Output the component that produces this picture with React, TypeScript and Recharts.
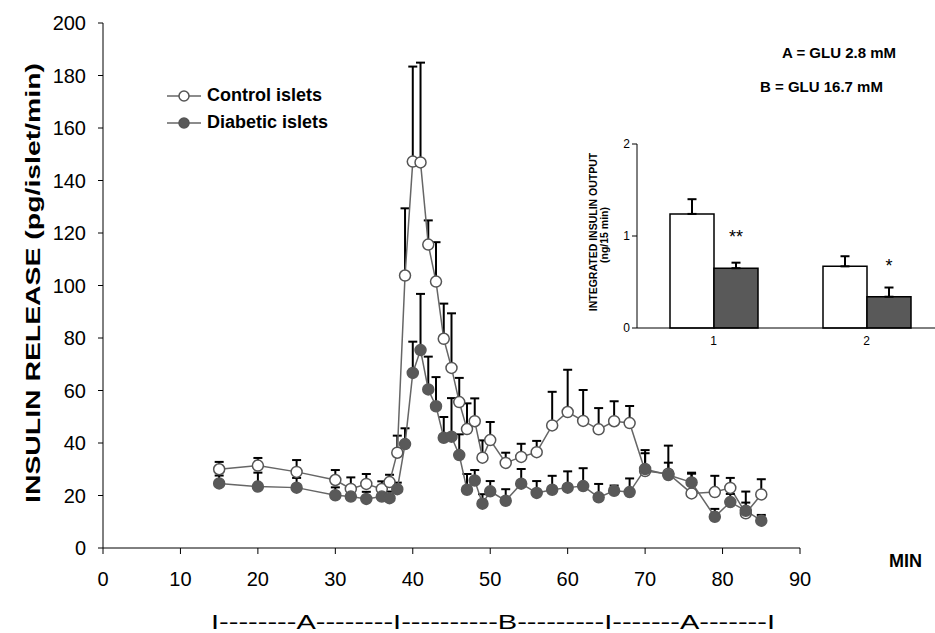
import React from 'react';
import {
  LineChart,
  Line,
  XAxis,
  YAxis,
  ErrorBar,
  BarChart,
  Bar,
  LabelList,
} from 'recharts';

const FONT = '"Liberation Sans", Arial, sans-serif';

// perifusion time points (min)
const minutes = [15, 20, 25, 30, 32, 34, 36, 37, 38, 39, 40, 41, 42, 43, 44, 45, 46, 47, 48, 49, 50, 52, 54, 56, 58, 60, 62, 64, 66, 68, 70, 73, 76, 79, 81, 83, 85];

const controlIslets = [30.0, 31.4, 29.0, 25.9, 22.5, 24.4, 22.5, 25.1, 36.3, 103.8, 147.2, 146.9, 115.6, 101.5, 79.7, 68.6, 55.6, 45.3, 48.3, 34.4, 41.1, 32.4, 34.7, 36.5, 46.7, 51.8, 48.4, 45.2, 48.3, 47.6, 29.3, 28.3, 20.8, 21.3, 22.9, 13.2, 20.4];
const controlSem = [2.8, 2.9, 4.5, 3.8, 4.4, 3.8, 2.9, 2.8, 6.5, 25.6, 36.2, 38.0, 9.2, 15.0, 13.4, 20.8, 9.2, 9.8, 8.7, 6.6, 6.9, 3.9, 5.0, 4.3, 12.8, 16.1, 11.8, 8.1, 7.6, 6.5, 8.0, 10.7, 7.5, 6.2, 3.8, 4.1, 5.8];

const diabeticIslets = [24.6, 23.4, 23.0, 20.1, 19.6, 18.7, 19.6, 19.0, 22.4, 39.6, 66.7, 75.4, 60.4, 54.0, 42.0, 42.4, 35.4, 22.2, 25.7, 16.9, 21.6, 18.0, 24.5, 21.0, 22.2, 23.0, 23.6, 19.3, 21.8, 21.3, 30.1, 27.8, 25.0, 11.9, 17.5, 14.2, 10.4];
const diabeticSem = [3.0, 5.3, 3.7, 3.0, 2.5, 2.7, 2.0, 2.5, 2.5, 6.0, 11.9, 21.4, 12.5, 11.1, 7.9, 14.7, 7.9, 6.0, 4.0, 3.6, 3.9, 4.4, 5.6, 4.5, 5.3, 6.2, 6.8, 5.1, 2.0, 5.2, 6.0, 4.7, 3.7, 3.0, 3.1, 7.3, 2.2];

const xTicks = [0, 10, 20, 30, 40, 50, 60, 70, 80, 90];
const yTicks = [0, 20, 40, 60, 80, 100, 120, 140, 160, 180, 200];

// inset: integrated output
const insetGroups = ['1', '2'];
const insetControl = [1.24, 0.67];
const insetControlSem = [0.16, 0.11];
const insetDiabetic = [0.65, 0.34];
const insetDiabeticSem = [0.06, 0.1];
const insetStars = ['**', '*'];

const data = minutes.map((t, i) => ({
  t,
  control: controlIslets[i],
  controlErr: [0, controlSem[i]],
  diabetic: diabeticIslets[i],
  diabeticErr: [0, diabeticSem[i]],
}));

const insetData = insetGroups.map((g, i) => ({
  group: g,
  control: insetControl[i],
  controlErr: [0, insetControlSem[i]],
  diabetic: insetDiabetic[i],
  diabeticErr: [0, insetDiabeticSem[i]],
  stars: insetStars[i],
}));

const legendItems = [
  { name: 'Control islets', fill: '#fff' },
  { name: 'Diabetic islets', fill: '#595959' },
];

const LegendBox = () => (
  <div style={{ fontFamily: FONT, fontWeight: 'bold', fontSize: 18, color: '#000' }}>
    {legendItems.map((s) => (
      <div key={s.name} style={{ display: 'flex', alignItems: 'center', height: 27 }}>
        <svg width={38} height={14}>
          <line x1={1} y1={7} x2={35} y2={7} stroke="#666" strokeWidth={1.5} />
          <circle cx={18} cy={7} r={5} fill={s.fill} stroke="#555" strokeWidth={1.5} />
        </svg>
        <span style={{ marginLeft: 3 }}>{s.name}</span>
      </div>
    ))}
  </div>
);

const App = () => (
  <div
    style={{
      position: 'absolute',
      left: 0,
      top: 0,
      width: 935,
      height: 633,
      overflow: 'hidden',
      background: '#fff',
      fontFamily: FONT,
    }}
  >
    <LineChart
      width={935}
      height={633}
      data={data}
      margin={{ top: 23, right: 135, left: 0, bottom: 45 }}
    >
      <XAxis
        dataKey="t"
        type="number"
        domain={[0, 90]}
        ticks={xTicks}
        tickSize={6}
        tickMargin={18}
        height={40}
        stroke="#000"
        tick={{ fontSize: 20, fill: '#000', fontFamily: FONT }}
      />
      <YAxis
        type="number"
        domain={[0, 200]}
        ticks={yTicks}
        tickSize={5}
        tickMargin={12}
        width={103}
        stroke="#000"
        tick={{ fontSize: 20, fill: '#000', fontFamily: FONT }}
      />
      <Line
        type="linear"
        dataKey="control"
        stroke="#666"
        strokeWidth={1.5}
        dot={{ r: 5.5, fill: '#fff', stroke: '#555', strokeWidth: 1.5 }}
        isAnimationActive={false}
      >
        <ErrorBar dataKey="controlErr" direction="y" width={4.5} stroke="#000" strokeWidth={2} />
      </Line>
      <Line
        type="linear"
        dataKey="diabetic"
        stroke="#666"
        strokeWidth={1.5}
        dot={{ r: 5.5, fill: '#595959', stroke: '#595959', strokeWidth: 1.5 }}
        isAnimationActive={false}
      >
        <ErrorBar dataKey="diabeticErr" direction="y" width={4.5} stroke="#000" strokeWidth={2} />
      </Line>
    </LineChart>

    <div style={{ position: 'absolute', left: 166, top: 82 }}>
      <LegendBox />
    </div>

    <div style={{ position: 'absolute', left: 597, top: 124 }}>
      <BarChart
        width={350}
        height={234}
        data={insetData}
        margin={{ top: 20, right: 4, left: 0, bottom: 0 }}
        barGap={0}
      >
        <XAxis
          dataKey="group"
          tickLine={false}
          height={30}
          stroke="#000"
          tick={{ fontSize: 12, fill: '#000', fontFamily: FONT }}
        />
        <YAxis
          type="number"
          domain={[0, 2]}
          ticks={[0, 1, 2]}
          tickSize={5}
          width={40}
          stroke="#000"
          tick={{ fontSize: 12, fill: '#000', fontFamily: FONT }}
        />
        <Bar dataKey="control" barSize={44} fill="#fff" stroke="#000" strokeWidth={1.5} isAnimationActive={false}>
          <ErrorBar dataKey="controlErr" direction="y" width={4.5} stroke="#000" strokeWidth={2} />
        </Bar>
        <Bar dataKey="diabetic" barSize={44} fill="#595959" stroke="#000" strokeWidth={1.5} isAnimationActive={false}>
          <ErrorBar dataKey="diabeticErr" direction="y" width={4.5} stroke="#000" strokeWidth={2} />
          <LabelList dataKey="stars" position="top" offset={25} fill="#000" fontSize={18} fontFamily={FONT} />
        </Bar>
      </BarChart>
    </div>

    <svg
      width={935}
      height={633}
      style={{ position: 'absolute', left: 0, top: 0, pointerEvents: 'none' }}
      fontFamily={FONT}
    >
      <text
        transform="translate(33,283) rotate(-90)"
        textAnchor="middle"
        dominantBaseline="central"
        fontSize={20}
        fontWeight="bold"
        textLength={440}
        lengthAdjust="spacingAndGlyphs"
      >
        INSULIN RELEASE (pg/islet/min)
      </text>
      <text x={889} y={567} fontSize={18} fontWeight="bold">MIN</text>
      <text x={782} y={58} fontSize={15} fontWeight="bold">A = GLU 2.8 mM</text>
      <text x={760} y={92} fontSize={15} fontWeight="bold">B = GLU 16.7 mM</text>
      <text
        x={211}
        y={629}
        fontSize={21}
        textLength={564}
        lengthAdjust="spacingAndGlyphs"
      >
        I--------A--------I----------B---------I-------A-------I
      </text>
      <text
        transform="translate(593,232) rotate(-90)"
        textAnchor="middle"
        dominantBaseline="central"
        fontSize={10.5}
        fontWeight="bold"
      >
        INTEGRATED INSULIN OUTPUT
      </text>
      <text
        transform="translate(604,235) rotate(-90)"
        textAnchor="middle"
        dominantBaseline="central"
        fontSize={10.5}
        fontWeight="bold"
      >
        (ng/15 min)
      </text>
    </svg>
  </div>
);

export default App;
